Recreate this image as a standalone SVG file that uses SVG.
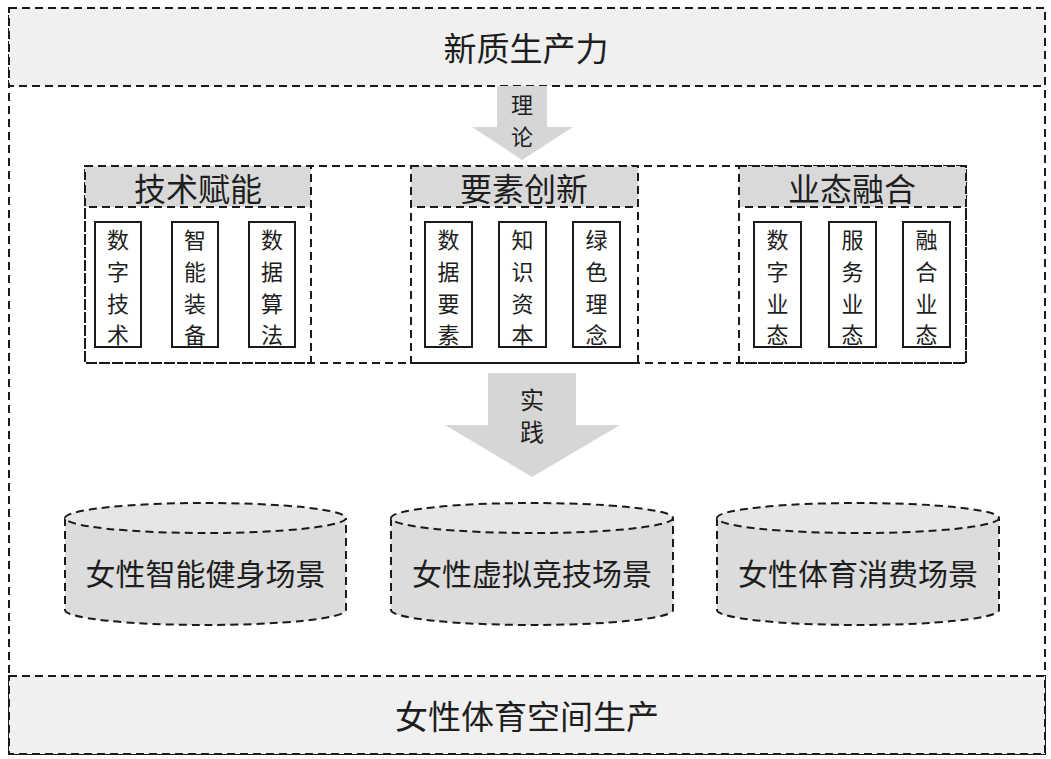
<svg xmlns="http://www.w3.org/2000/svg" width="1051" height="759" viewBox="0 0 1051 759">
<style>
.d{fill:none;stroke:#1a1a1a;stroke-width:2;stroke-dasharray:8 5}
.t{font-family:"Noto Sans CJK SC","Noto Sans",sans-serif;fill:#1e1e1e;text-anchor:middle;dominant-baseline:central}
.big{font-size:33px}
.hd{font-size:32px}
.cy{font-size:30px}
.v{font-size:22px}
.sb{fill:#fff;stroke:#1a1a1a;stroke-width:2}
.hdr{fill:#d9d9d9;stroke:#1a1a1a;stroke-width:2;stroke-dasharray:8 5}
.arr{fill:#d6d6d6}
.cyl{fill:#dcdcdc;stroke:#1a1a1a;stroke-width:2;stroke-dasharray:8 5}
.cyltop{fill:#e6e6e6;stroke:#1a1a1a;stroke-width:2;stroke-dasharray:8 5}
</style>
<rect width="1051" height="759" fill="#fff"/>
<g id="frame">
<rect x="9" y="8" width="1036" height="746" class="d"/>
</g>
<g id="top">
<rect x="9" y="8" width="1036" height="78" class="d" style="fill:#f0f0f0"/>
<text x="526" y="47" class="t big">新质生产力</text>
</g>
<g id="bottom">
<rect x="9" y="676" width="1036" height="78" class="d" style="fill:#f0f0f0"/>
<text x="527" y="715" class="t big">女性体育空间生产</text>
</g>
<g id="connectors">
<polygon class="arr" points="497,86 547,86 547,127 573,127 522,160 472,127 497,127"/>
<text x="522" y="103" class="t" style="font-size:22px">理</text>
<text x="522" y="135" class="t" style="font-size:22px">论</text>
<polygon class="arr" points="488,373 576,373 576,425 620,425 532,477 445,425 488,425"/>
<text x="532" y="398" class="t" style="font-size:24px">实</text>
<text x="532" y="430" class="t" style="font-size:24px">践</text>
</g>
<g id="row">
<rect x="85" y="166" width="881" height="197" class="d"/>
</g>
<g id="g1">
<rect x="85" y="166" width="226" height="197" class="d"/>
<rect x="85" y="166" width="226" height="41" class="hdr"/>
<text x="198" y="187" class="t hd">技术赋能</text>
<rect x="95" y="222" width="46" height="125" class="sb"/>
<rect x="172" y="222" width="46" height="125" class="sb"/>
<rect x="249" y="222" width="46" height="125" class="sb"/>
<text x="118" y="238" class="t v">数</text><text x="118" y="270" class="t v">字</text><text x="118" y="301.5" class="t v">技</text><text x="118" y="333" class="t v">术</text>
<text x="195" y="238" class="t v">智</text><text x="195" y="270" class="t v">能</text><text x="195" y="301.5" class="t v">装</text><text x="195" y="333" class="t v">备</text>
<text x="272" y="238" class="t v">数</text><text x="272" y="270" class="t v">据</text><text x="272" y="301.5" class="t v">算</text><text x="272" y="333" class="t v">法</text>
</g>
<g id="g2">
<rect x="411" y="166" width="227" height="197" class="d"/>
<rect x="411" y="166" width="227" height="41" class="hdr"/>
<text x="524" y="187" class="t hd">要素创新</text>
<rect x="425" y="222" width="47" height="125" class="sb"/>
<rect x="499" y="222" width="47" height="125" class="sb"/>
<rect x="573" y="222" width="47" height="125" class="sb"/>
<text x="448.5" y="238" class="t v">数</text><text x="448.5" y="270" class="t v">据</text><text x="448.5" y="301.5" class="t v">要</text><text x="448.5" y="333" class="t v">素</text>
<text x="522.5" y="238" class="t v">知</text><text x="522.5" y="270" class="t v">识</text><text x="522.5" y="301.5" class="t v">资</text><text x="522.5" y="333" class="t v">本</text>
<text x="596.5" y="238" class="t v">绿</text><text x="596.5" y="270" class="t v">色</text><text x="596.5" y="301.5" class="t v">理</text><text x="596.5" y="333" class="t v">念</text>
</g>
<g id="g3">
<rect x="739" y="166" width="227" height="197" class="d"/>
<rect x="739" y="166" width="227" height="41" class="hdr"/>
<text x="852" y="187" class="t hd">业态融合</text>
<rect x="754" y="222" width="47" height="125" class="sb"/>
<rect x="829" y="222" width="47" height="125" class="sb"/>
<rect x="903" y="222" width="47" height="125" class="sb"/>
<text x="777.5" y="238" class="t v">数</text><text x="777.5" y="270" class="t v">字</text><text x="777.5" y="301.5" class="t v">业</text><text x="777.5" y="333" class="t v">态</text>
<text x="852.5" y="238" class="t v">服</text><text x="852.5" y="270" class="t v">务</text><text x="852.5" y="301.5" class="t v">业</text><text x="852.5" y="333" class="t v">态</text>
<text x="926.5" y="238" class="t v">融</text><text x="926.5" y="270" class="t v">合</text><text x="926.5" y="301.5" class="t v">业</text><text x="926.5" y="333" class="t v">态</text>
</g>
<g id="c1">
<path class="cyl" d="M65,518 L65,610 A140.5,15 0 0 0 346,610 L346,518"/>
<ellipse class="cyltop" cx="205.5" cy="518" rx="140.5" ry="15"/>
<text x="205.5" y="572" class="t cy">女性智能健身场景</text>
</g>
<g id="c2">
<path class="cyl" d="M391,518 L391,610 A141,15 0 0 0 673,610 L673,518"/>
<ellipse class="cyltop" cx="532" cy="518" rx="141" ry="15"/>
<text x="532" y="572" class="t cy">女性虚拟竞技场景</text>
</g>
<g id="c3">
<path class="cyl" d="M717,518 L717,610 A141,15 0 0 0 999,610 L999,518"/>
<ellipse class="cyltop" cx="858" cy="518" rx="141" ry="15"/>
<text x="858" y="572" class="t cy">女性体育消费场景</text>
</g>
</svg>
